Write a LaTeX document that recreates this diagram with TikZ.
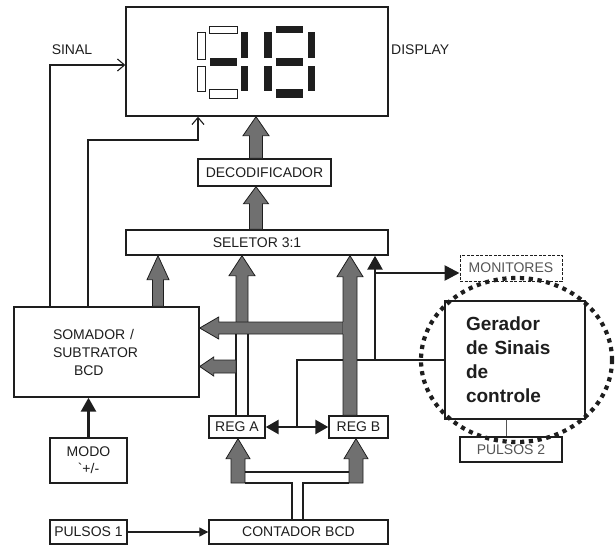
\documentclass[tikz,border=0pt]{standalone}
\usepackage{fontspec}
\setmainfont{Liberation Sans}
\usepackage{tikz}
\usetikzlibrary{calc,arrows.meta}
\definecolor{inkx}{HTML}{1E1E1E}
\definecolor{busgray}{HTML}{707070}
\definecolor{softgray}{HTML}{555555}
\tikzset{
  blk/.style={draw=inkx,line width=1.4pt,fill=white,inner sep=0pt,text=inkx,font=\fontsize{14}{18}\selectfont},
  wh/.style 2 args={minimum width=#1pt,minimum height=#2pt},
  lbl/.style={inner sep=0pt,text=inkx,font=\fontsize{14}{18}\selectfont},
  bus/.style={draw=inkx,line width=0.8pt,fill=busgray},
  ctl/.style={draw=inkx,line width=2.7pt},
  thn/.style={draw=inkx,line width=1.2pt},
  tri/.style={-{Triangle[length=14pt,width=15pt]}},
  barb/.style={-{Straight Barb[length=7pt,width=12pt,line width=1.1pt]}},
  segoff/.style={draw=inkx,line width=1pt,fill=white},
  ring/.style={draw=inkx,line width=4.2pt,dash pattern=on 4.2pt off 4.6pt}
}
% fat bus arrows: foot, tip, half shaft, half head, head length
\newcommand{\busup}[5]{%
  \filldraw[bus] let \p1=#1, \p2=#2 in
    (\x2-#3,\y1) -- (\x2-#3,\y2-#5) -- (\x2-#4,\y2-#5) -- (\x2,\y2)
    -- (\x2+#4,\y2-#5) -- (\x2+#3,\y2-#5) -- (\x2+#3,\y1) -- cycle;}
\newcommand{\busleft}[5]{%
  \filldraw[bus] let \p1=#1, \p2=#2 in
    (\x1,\y2+#3) -- (\x2+#5,\y2+#3) -- (\x2+#5,\y2+#4) -- (\x2,\y2)
    -- (\x2+#5,\y2-#4) -- (\x2+#5,\y2-#3) -- (\x1,\y2-#3) -- cycle;}
\begin{document}
\begin{tikzpicture}[x=1pt,y=-1pt]
\useasboundingbox (0,0) rectangle (616,546);
% blocks
\node[blk,wh={262}{109}] (disp) at (257,61.5) {};
\node[blk,wh={133}{27}] (dec) at (264.5,172.5) {DECODIFICADOR};
\node[blk,wh={262}{25}] (sel) at (257,242.5) {SELETOR 3:1};
\node[blk,wh={185}{90},text width=107pt,align=left] (som) at (106.5,352) {SOMADOR /\\SUBTRATOR\\\hspace*{21pt}BCD};
\node[blk,wh={56}{22}] (rega) at (237,427) {REG A};
\node[blk,wh={59}{22}] (regb) at (358.5,427) {REG B};
\node[blk,wh={77}{45},align=center,font=\fontsize{14}{17}\selectfont] (modo) at (88.5,460.5) {MODO\\\textasciigrave+/-};
\node[blk,wh={77}{24}] (p1) at (88.5,532) {PULSOS 1};
\node[blk,wh={179}{24}] (cnt) at (298.5,532) {CONTADOR BCD};
\node[blk,wh={102}{26},line width=1pt,dash pattern=on 3pt off 1.5pt,text=softgray] (mon) at (511,268) {MONITORES};
\node[blk,wh={102}{25},line width=1.2pt,text=softgray] (p2) at (511,449.5) {PULSOS 2};
\node[blk,wh={140}{118},text width=98pt,align=left,font=\bfseries\fontsize{19}{24}\selectfont] (ger) at (515,360) {Gerador\\de Sinais\\de\\controle};
\node[lbl] (sinal) at (72,50) {SINAL};
\node[lbl,anchor=west] (displ) at (391,50) {DISPLAY};
% seven segment digits
\foreach \sa/\sb/\sc/\sd in {241/32/248/58,241/66/248/91,210/58/237/66,
  276/26/303/33,276/58/303/66,276/89/303/98,264/32/272/58,264/66/272/91,308/32/315/58,308/66/315/91}
  {\fill[inkx] (\sa,\sb) rectangle (\sc,\sd);}
\foreach \sa/\sb/\sc/\sd in {209/26/237/33,209/89/237/98,197/32/205/59,197/66/205/91}
  {\filldraw[segoff] (\sa,\sb) rectangle (\sc,\sd);}
% thin signal lines
\coordinate (sg) at (50,65);
\coordinate (fb) at (88,140);
\coordinate (fbk) at (198,140);
\draw[thn,barb] (sg |- som.north) -- (sg) -- (sg -| disp.west);
\draw[thn,barb] (fb |- som.north) -- (fb) -- (fbk) -- (fbk |- disp.south);
\draw[ctl,tri] (modo.north) -- (modo.north |- som.south);
\draw[thn,-{Triangle[length=9pt,width=9pt]}] (p1.east) -- (cnt.west);
\coordinate (gp) at (506,0);
\draw[softgray,line width=1pt] (gp |- ger.south) -- (gp |- p2.north);
% control lines
\coordinate (gj) at (297,360);
\coordinate (sj) at (375,360);
\coordinate (mj) at (375,273);
\draw[ctl] (ger.west) -- (gj) -- (gj |- rega.east);
\draw[ctl,{Triangle[length=13pt,width=14pt]}-{Triangle[length=13pt,width=14pt]}] (rega.east) -- (regb.west);
\draw[ctl,tri] (sj) -- (sj |- sel.south);
\draw[ctl,-{Triangle[length=15pt,width=15pt]}] (mj) -- (mj -| mon.west);
% buses
\coordinate (xd) at (256,0);
\coordinate (xs) at (158,0);
\coordinate (xa) at (242,0);
\coordinate (xb) at (350,0);
\coordinate (hb) at (350,328);
\coordinate (sm) at (236,366.5);
\busup{(xd |- dec.north)}{(xd |- disp.south)}{6.5}{13}{19}
\busup{(xd |- sel.north)}{(xd |- dec.south)}{6.5}{12.5}{17}
\busup{(xs |- som.north)}{(xs |- sel.south)}{5.5}{11}{24}
\busup{(xa |- hb)}{(xa |- sel.south)}{6}{13}{20}
\busleft{(hb)}{(hb -| som.east)}{6}{11}{19}
\busup{(xb |- regb.north)}{(xb |- sel.south)}{7}{13}{21}
\fill[busgray] ($(hb)+(-6.6,-5.6)$) rectangle ($(hb)+(0,5.6)$);
\draw[thn] ($(xa |- hb)+(-6,6)$) -- ($(xa |- rega.north)+(-6,0)$);
\draw[thn] ($(xa |- hb)+(6,6)$) -- ($(xa |- rega.north)+(6,0)$);
\busleft{(sm)}{(sm -| som.east)}{6.5}{9.5}{14}
% counter buses
\coordinate (la) at (238,483);
\coordinate (lb) at (356,483);
\coordinate (ca) at (292,483);
\coordinate (cb) at (303,483);
\busup{(la)}{(la |- rega.south)}{7}{12}{20}
\busup{(lb)}{(lb |- regb.south)}{7}{12}{20}
\draw[thn] ($(la)+(7,-11)$) -- ($(lb)+(-7,-11)$);
\draw[thn] ($(la)+(7,0)$) -- (ca) -- (ca |- cnt.north);
\draw[thn] ($(lb)+(-7,0)$) -- (cb) -- (cb |- cnt.north);
% dotted ring
\draw[ring] (516.5,360) ellipse [x radius=95.5pt,y radius=82pt];
\end{tikzpicture}
\end{document}
